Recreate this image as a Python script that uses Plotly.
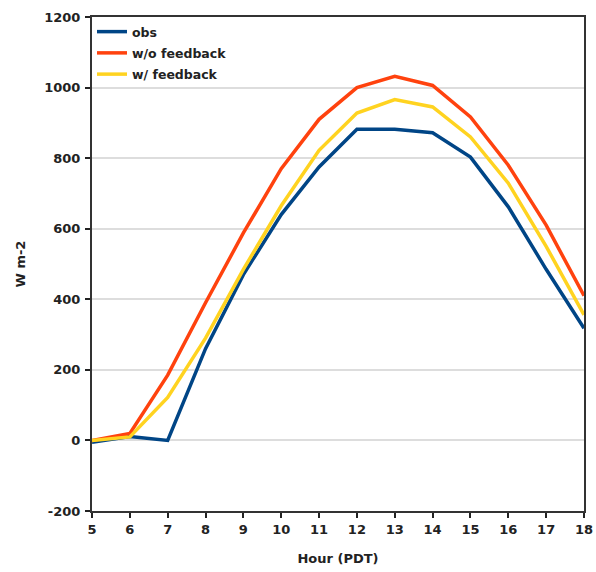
import plotly.graph_objects as go

hours = list(range(5, 19))
obs = [-5, 11, 0, 260, 470, 640, 775, 882, 882, 872, 803, 662, 485, 318]
wo_feedback = [0, 20, 185, 390, 588, 770, 910, 1000, 1032, 1006, 917, 780, 610, 410]
w_feedback = [0, 10, 122, 290, 485, 665, 822, 928, 966, 945, 860, 729, 550, 356]
y_ticks = list(range(-200, 1201, 200))
y_tick_labels = [str(v) for v in y_ticks]

series = [
    ("obs", obs, "#004586"),
    ("w/o feedback", wo_feedback, "#ff420e"),
    ("w/ feedback", w_feedback, "#ffd320"),
]

FAM = "DejaVu Sans, Liberation Sans, sans-serif"
font = dict(family=FAM, size=13, color="#222222", weight="bold")

fig = go.Figure()
for name, vals, color in series:
    fig.add_trace(go.Scatter(x=hours, y=vals, mode="lines", name=name, legendgroup=name,
                             line=dict(color=color, width=3.5)))

fig.update_layout(
    width=596, height=572,
    margin=dict(l=92, r=12, t=17, b=61),
    paper_bgcolor="white", plot_bgcolor="white",
    font=font,
    showlegend=True,
    legend=dict(x=0.0, y=1.0, xanchor="left", yanchor="top",
                bgcolor="rgba(0,0,0,0)", tracegroupgap=2,
                font=dict(size=12.5, family=FAM, weight="bold", color="#222222"),
                itemwidth=30),
    xaxis=dict(range=[5, 18], tickvals=hours, ticks="outside", ticklen=5, tickwidth=2,
               tickcolor="#222222", showline=True, linecolor="#333333", linewidth=2,
               showgrid=False, zeroline=False, mirror=True, automargin=False,
               title=dict(text="Hour (PDT)", standoff=18, font=font), tickfont=font),
    yaxis=dict(range=[-200, 1200], tickvals=y_ticks, ticktext=y_tick_labels, ticks="outside",
               ticklen=5, tickwidth=2, tickcolor="#222222", showline=True, linecolor="#333333",
               linewidth=2, showgrid=True, gridcolor="#dddddd", gridwidth=2, zeroline=False,
               ticklabelstandoff=2, automargin=False, mirror=True,
               title=dict(text="W m-2", standoff=16, font=font), tickfont=font),
)

fig.write_html("out.html", config={"displayModeBar": False},
               post_script="document.body.style.margin='0px';document.body.style.overflow='hidden';")
